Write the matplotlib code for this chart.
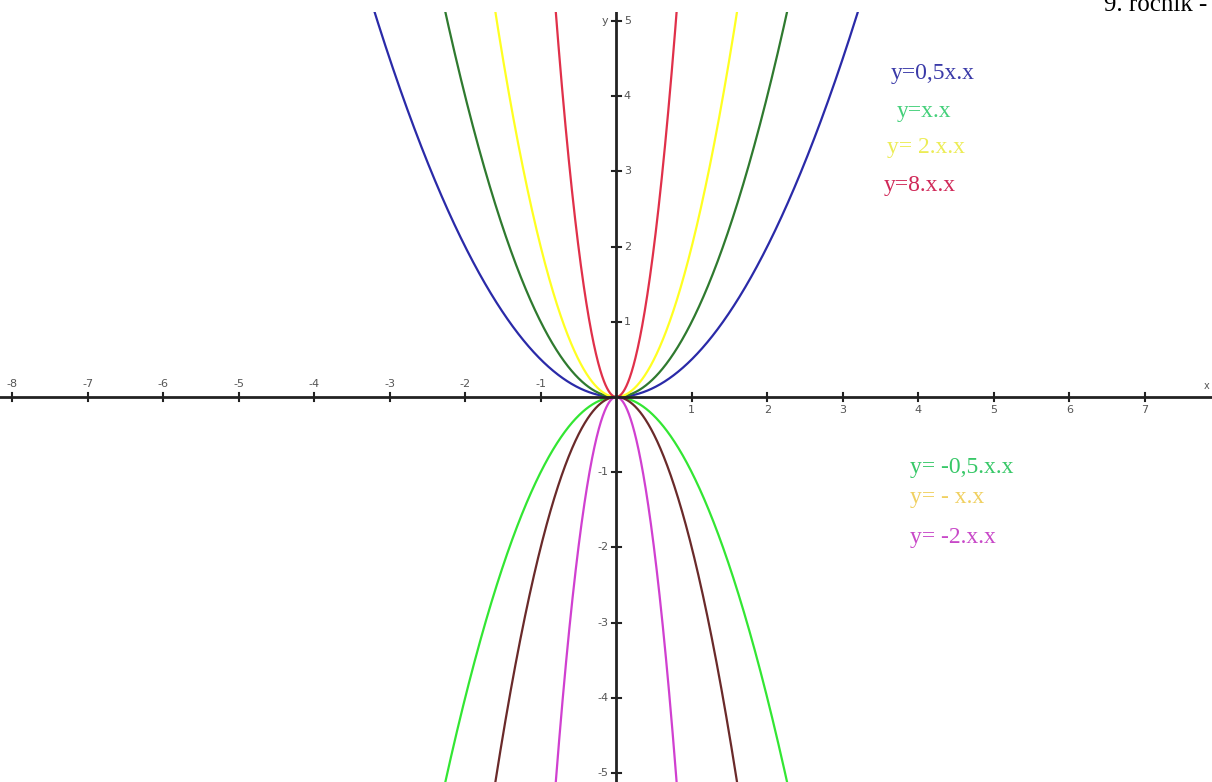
import matplotlib
matplotlib.use('Agg')
import matplotlib.pyplot as plt
import numpy as np

# coefficients a of y = a*x*x as drawn
upper_coefs = [0.5, 1, 2, 8]
upper_colors = ['#2a2aa8', '#2f7a2f', '#ffff22', '#e0304a']
lower_coefs = [-1, -2, -8]
lower_colors = ['#33e633', '#6a2a2a', '#d040d0']

# text labels (as written in the picture)
upper_labels = ['y=0,5x.x', 'y=x.x', 'y= 2.x.x', 'y=8.x.x']
upper_label_colors = ['#3a3aa8', '#44d07a', '#ecec55', '#d02858']
upper_label_pos = [(891, 73), (897, 112), (887, 148), (884, 186)]
lower_labels = ['y= -0,5.x.x', 'y= - x.x', 'y= -2.x.x']
lower_label_colors = ['#38c868', '#f0d060', '#c848c8']
lower_label_pos = [(910, 467), (910, 498), (910, 537)]

xticks = [-8, -7, -6, -5, -4, -3, -2, -1, 1, 2, 3, 4, 5, 6, 7]
yticks = [-5, -4, -3, -2, -1, 1, 2, 3, 4, 5]

W, H = 1212, 782
fig = plt.figure(figsize=(W / 100, H / 100), dpi=100)
ax = fig.add_axes([0, 0, 1, (H - 12) / H])
ax.set_xlim(-8.16, 7.89)
ax.set_ylim(-5.12, 5.12)
ax.axis('off')

x = np.linspace(-8.5, 8.5, 4001)
for a, c in zip(upper_coefs, upper_colors):
    ax.plot(x, a * x * x, color=c, lw=1.6, zorder=2)
for a, c in zip(lower_coefs, lower_colors):
    ax.plot(x, a * x * x, color=c, lw=1.6, zorder=2)

# axes through the origin
ax.axhline(0, color='#222222', lw=2, zorder=3)
ax.axvline(0, color='#222222', lw=2, zorder=3)

tick_col = '#555555'
for t in xticks:
    ax.plot([t, t], [-0.05, 0.05], color='#222222', lw=1.5, zorder=3)
    if t < 0:
        ax.text(t, 0.1, str(t), ha='center', va='bottom', fontsize=8, color=tick_col)
    else:
        ax.text(t, -0.1, str(t), ha='center', va='top', fontsize=8, color=tick_col)
for t in yticks:
    ax.plot([-0.06, 0.06], [t, t], color='#222222', lw=1.5, zorder=3)
    if t > 0:
        ax.text(0.1, t, str(t), ha='left', va='center', fontsize=8, color=tick_col)
    else:
        ax.text(-0.1, t, str(t), ha='right', va='center', fontsize=8, color=tick_col)
ax.text(-0.1, 5.0, 'y', ha='right', va='center', fontsize=8, color=tick_col)
ax.text(7.86, 0.08, 'x', ha='right', va='bottom', fontsize=7, color=tick_col)

for s, c, (px, py) in zip(upper_labels, upper_label_colors, upper_label_pos):
    fig.text(px / W, 1 - py / H, s, color=c, fontsize=17, family='Liberation Serif', va='center', ha='left')
for s, c, (px, py) in zip(lower_labels, lower_label_colors, lower_label_pos):
    fig.text(px / W, 1 - py / H, s, color=c, fontsize=17, family='Liberation Serif', va='center', ha='left')

fig.text(1104 / W, 1 - 11 / H, '9. ročník -', color='black', fontsize=18, family='Liberation Serif', va='baseline', ha='left')

fig.savefig('out.png', dpi=100)
